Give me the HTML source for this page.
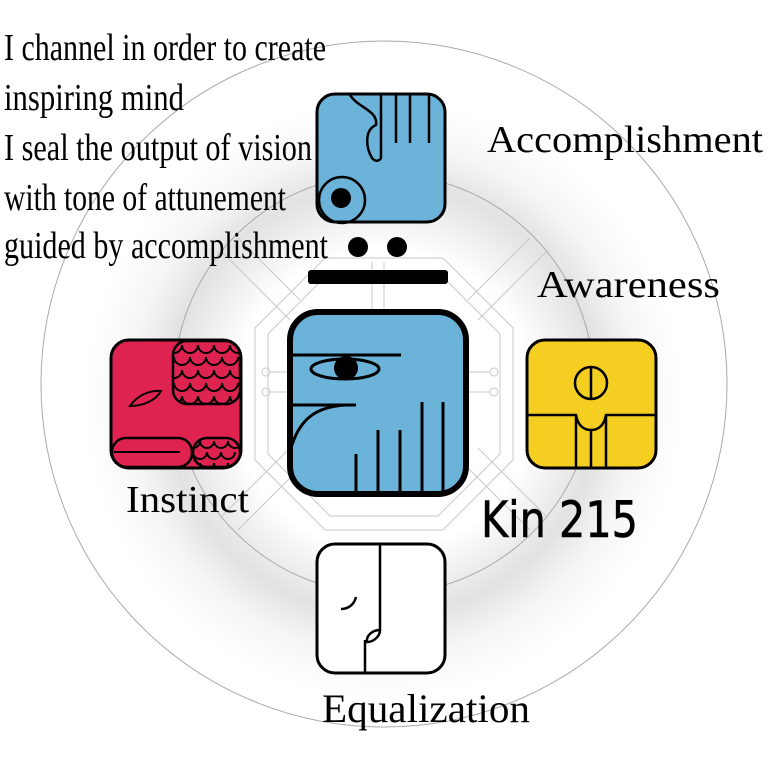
<!DOCTYPE html>
<html><head><meta charset="utf-8"><style>html,body{margin:0;padding:0;background:#fff}svg{display:block}</style></head><body>
<svg width="768" height="768" viewBox="0 0 768 768" xmlns="http://www.w3.org/2000/svg">
<defs>
<radialGradient id="sh" cx="384" cy="400" r="300" gradientUnits="userSpaceOnUse">
<stop offset="0" stop-color="#fff"/>
<stop offset="0.5" stop-color="#fff"/>
<stop offset="0.72" stop-color="#e2e2e2"/>
<stop offset="0.85" stop-color="#f6f6f6"/>
<stop offset="1" stop-color="#fff"/>
</radialGradient>
<clipPath id="c1"><rect x="173" y="341" width="67" height="63" rx="14"/></clipPath>
<clipPath id="c2"><rect x="193" y="438" width="47" height="29" rx="14"/></clipPath>
</defs>
<rect width="768" height="768" fill="#fff"/>
<circle cx="384" cy="400" r="300" fill="url(#sh)"/>
<circle cx="384" cy="384" r="343" fill="none" stroke="#aaa" stroke-width="1"/>
<circle cx="384" cy="384" r="210" fill="none" stroke="#aaa" stroke-width="1"/>
<g fill="none" stroke="#c8c8c8" stroke-width="1">
<polygon points="325,258 443,258 513,328 513,460 443,530 325,530 255,460 255,328"/>
<polygon points="330,272 438,272 500,334 500,454 438,516 330,516 268,454 268,334"/>
<line x1="238" y1="238" x2="300" y2="300"/><line x1="530" y1="238" x2="468" y2="300"/>
<line x1="238" y1="530" x2="300" y2="468"/><line x1="530" y1="530" x2="468" y2="468"/>
<line x1="220" y1="250" x2="290" y2="320"/><line x1="548" y1="250" x2="478" y2="320"/>
<line x1="220" y1="518" x2="290" y2="448"/><line x1="548" y1="518" x2="478" y2="448"/>
<line x1="372" y1="262" x2="372" y2="312"/><line x1="384" y1="262" x2="384" y2="312"/>
<line x1="270" y1="372" x2="287" y2="372"/><line x1="270" y1="392" x2="287" y2="392"/>
<line x1="466" y1="372" x2="490" y2="372"/><line x1="466" y1="392" x2="490" y2="392"/>
<circle cx="266" cy="372" r="4"/><circle cx="266" cy="392" r="4"/>
<circle cx="494" cy="372" r="4"/><circle cx="494" cy="392" r="4"/>
</g>
<!-- top glyph -->
<rect x="317" y="94" width="128" height="128" rx="18" fill="#6cb3d9" stroke="#000" stroke-width="3"/>
<path d="M350,95 C358,108 378,110 376,125 C364,130 366,148 372,158 C376,163 380,160 381,158 L381,95" fill="none" stroke="#000" stroke-width="2.5"/>
<g stroke="#000" stroke-width="2.5"><line x1="396" y1="95" x2="396" y2="143"/><line x1="410" y1="95" x2="410" y2="143"/><line x1="429" y1="95" x2="429" y2="143"/></g>
<circle cx="342" cy="200" r="23" fill="none" stroke="#000" stroke-width="2.5"/>
<circle cx="341" cy="198" r="10" fill="#000"/>
<circle cx="358" cy="247" r="10" fill="#000"/><circle cx="397" cy="247" r="10" fill="#000"/>
<rect x="308" y="270" width="140" height="14" rx="3" fill="#000"/>
<!-- center glyph -->
<rect x="290" y="312" width="176" height="182" rx="28" fill="#6cb3d9" stroke="#000" stroke-width="6"/>
<g stroke="#000" stroke-width="3" fill="none">
<line x1="290" y1="355" x2="401" y2="355"/>
<ellipse cx="345" cy="369" rx="34" ry="10"/>
<line x1="290" y1="405" x2="356" y2="405"/>
<path d="M292,445 C300,420 315,407 345,405"/>
<line x1="356" y1="454" x2="356" y2="494"/><line x1="378" y1="430" x2="378" y2="494"/>
<line x1="400" y1="430" x2="400" y2="494"/><line x1="422" y1="402" x2="422" y2="494"/><line x1="443" y1="402" x2="443" y2="494"/>
</g>
<circle cx="346" cy="368" r="12" fill="#000"/>
<!-- left red -->
<rect x="111" y="340" width="130" height="128" rx="18" fill="#de2350" stroke="#000" stroke-width="3"/>
<g fill="none" stroke="#000" stroke-width="2" clip-path="url(#c1)">
<path d="M166,345 a8,8 0 0 0 16,0 a8,8 0 0 0 16,0 a8,8 0 0 0 16,0 a8,8 0 0 0 16,0 a8,8 0 0 0 16,0"/>
<path d="M174,357 a8,8 0 0 0 16,0 a8,8 0 0 0 16,0 a8,8 0 0 0 16,0 a8,8 0 0 0 16,0"/>
<path d="M166,370 a8,8 0 0 0 16,0 a8,8 0 0 0 16,0 a8,8 0 0 0 16,0 a8,8 0 0 0 16,0 a8,8 0 0 0 16,0"/>
<path d="M174,383 a8,8 0 0 0 16,0 a8,8 0 0 0 16,0 a8,8 0 0 0 16,0 a8,8 0 0 0 16,0"/>
<path d="M166,396 a8,8 0 0 0 16,0 a8,8 0 0 0 16,0 a8,8 0 0 0 16,0 a8,8 0 0 0 16,0 a8,8 0 0 0 16,0"/>
</g>
<rect x="173" y="341" width="67" height="63" rx="14" fill="none" stroke="#000" stroke-width="2.5"/>
<g fill="none" stroke="#000" stroke-width="2">
<path d="M130,406 C138,394 152,390 161,391 C156,400 144,406 130,406 Z"/>
<rect x="112" y="438" width="80" height="29" rx="14" stroke-width="2.5"/>
<line x1="114" y1="452" x2="180" y2="452"/>
<g clip-path="url(#c2)">
<path d="M186,441 a7,7 0 0 0 14,0 a7,7 0 0 0 14,0 a7,7 0 0 0 14,0 a7,7 0 0 0 14,0"/>
<path d="M193,452 a7,7 0 0 0 14,0 a7,7 0 0 0 14,0 a7,7 0 0 0 14,0"/>
<path d="M186,463 a7,7 0 0 0 14,0 a7,7 0 0 0 14,0 a7,7 0 0 0 14,0 a7,7 0 0 0 14,0"/>
</g>
<rect x="193" y="438" width="47" height="29" rx="14" stroke-width="2.5"/>
</g>
<!-- right yellow -->
<rect x="527" y="340" width="129" height="128" rx="18" fill="#f5ce22" stroke="#000" stroke-width="3"/>
<g fill="none" stroke="#000" stroke-width="2.5">
<circle cx="591" cy="383" r="16"/><line x1="591" y1="367" x2="591" y2="399"/>
<path d="M528,415 L576,415 C578,426 584,430 591,430 C598,430 604,426 606,415 L655,415"/>
<line x1="576" y1="415" x2="576" y2="467"/><line x1="591" y1="430" x2="591" y2="467"/><line x1="606" y1="415" x2="606" y2="467"/>
</g>
<!-- bottom white -->
<rect x="317" y="544" width="128" height="129" rx="18" fill="#fff" stroke="#000" stroke-width="3"/>
<g fill="none" stroke="#000" stroke-width="2.5">
<line x1="380" y1="545" x2="380" y2="630"/>
<path d="M380,630 C372,630 366,636 367,642 C374,642 380,636 380,630"/>
<line x1="365" y1="640" x2="365" y2="672"/>
<path d="M356,597 C354,605 348,609 341,609"/>
</g>
<!-- texts -->
<g font-family="Liberation Serif, serif" fill="#000">
<text x="4" y="60" font-size="38" textLength="322" lengthAdjust="spacingAndGlyphs">I channel in order to create</text>
<text x="4" y="110" font-size="38" textLength="180" lengthAdjust="spacingAndGlyphs">inspiring mind</text>
<text x="4" y="160" font-size="38" textLength="308" lengthAdjust="spacingAndGlyphs">I seal the output of vision</text>
<text x="4" y="210" font-size="38" textLength="282" lengthAdjust="spacingAndGlyphs">with tone of attunement</text>
<text x="4" y="258" font-size="38" textLength="324" lengthAdjust="spacingAndGlyphs">guided by accomplishment</text>
<text x="487" y="152" font-size="38" textLength="276" lengthAdjust="spacingAndGlyphs">Accomplishment</text>
<text x="537" y="297" font-size="38" textLength="183" lengthAdjust="spacingAndGlyphs">Awareness</text>
<text x="126" y="512" font-size="38" textLength="123" lengthAdjust="spacingAndGlyphs">Instinct</text>
<text x="322" y="722" font-size="40" textLength="208" lengthAdjust="spacingAndGlyphs">Equalization</text>
</g>
<text x="481" y="537" font-family="DejaVu Sans, sans-serif" font-size="50" textLength="157" lengthAdjust="spacingAndGlyphs" fill="#000" stroke="#000" stroke-width="0.6">Kin 215</text>
</svg>
</body></html>
